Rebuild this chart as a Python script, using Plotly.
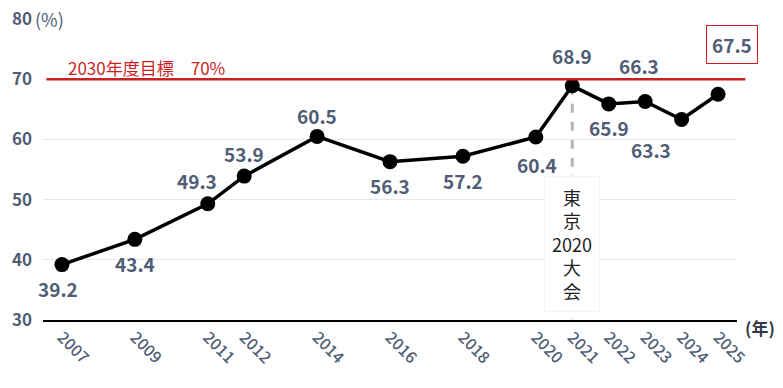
import plotly.graph_objects as go

years = [2007, 2009, 2011, 2012, 2014, 2016, 2018, 2020, 2021, 2022, 2023, 2024, 2025]
values = [39.2, 43.4, 49.3, 53.9, 60.5, 56.3, 57.2, 60.4, 68.9, 65.9, 66.3, 63.3, 67.5]
value_labels = ["39.2", "43.4", "49.3", "53.9", "60.5", "56.3", "57.2", "60.4", "68.9", "65.9", "66.3", "63.3", "67.5"]
y_ticks = [30, 40, 50, 60, 70, 80]
target_value = 70
target_label = "2030年度目標　70%"
event_year = 2021
event_label = "東<br>京<br>2020<br>大<br>会"

# label offsets in pixels (dx, dy) relative to each point
label_offsets = [(-4, 24), (0, 24), (-11, -23), (0, -23), (0, -21), (0, 24), (0, 24),
                 (1, 28), (0, -30), (0, 24), (-6, -36), (-31, 30), (14, -50)]

FONT = "Noto Sans CJK JP"
SLATE = "#4f5d75"
RED = "#cc1f1f"

fig = go.Figure()

# dashed vertical event line
fig.add_trace(go.Scatter(
    x=[event_year, event_year], y=[values[years.index(event_year)], 30],
    mode="lines", line=dict(color="#b5b5b5", width=3, dash="dash"),
    hoverinfo="skip", showlegend=False))

fig.add_trace(go.Scatter(
    x=years, y=values, mode="lines+markers",
    line=dict(color="black", width=3.5),
    marker=dict(color="black", size=15),
    showlegend=False))

# target line
fig.add_shape(type="line", xref="paper", yref="y", x0=0.005, x1=1.012,
              y0=target_value, y1=target_value, line=dict(color=RED, width=2.5))
fig.add_annotation(x=0.033, xref="paper", y=target_value, yref="y", yshift=12,
                   text=target_label, showarrow=False, xanchor="left",
                   font=dict(family=FONT, size=17, color=RED))

for yr, v, lab, (dx, dy) in zip(years, values, value_labels, label_offsets):
    last = yr == years[-1]
    fig.add_annotation(
        x=yr, y=v, text=lab, showarrow=False, xshift=dx, yshift=-dy,
        font=dict(family=FONT, size=19, color=SLATE, weight=600),
        bordercolor=RED if last else "rgba(0,0,0,0)", borderwidth=1 if last else 0,
        borderpad=5, bgcolor="white" if last else "rgba(0,0,0,0)")

# event box
fig.add_annotation(x=event_year, y=42.6, text=event_label, showarrow=False,
                   font=dict(family=FONT, size=18, color="#222222"),
                   bgcolor="white", bordercolor="#f4f4f4", borderwidth=1,
                   borderpad=7, align="center")

fig.add_annotation(x=-0.015, xref="paper", y=80, yref="y", text="(%)",
                   showarrow=False, xanchor="left",
                   font=dict(family=FONT, size=18, color=SLATE))
fig.add_annotation(x=1.0, xref="paper", y=30, yref="y", xshift=6, yshift=-7, text="(年)",
                   showarrow=False, xanchor="left",
                   font=dict(family=FONT, size=17, color="#333a48", weight="bold"))

fig.update_layout(
    width=783, height=388,
    margin=dict(l=43, r=46, t=19, b=68),
    plot_bgcolor="white", paper_bgcolor="white",
    font=dict(family=FONT),
    xaxis=dict(range=[2006.48, 2025.52], tickmode="array", tickvals=years,
               ticktext=[str(y) for y in years], tickangle=45, automargin=False,
               tickfont=dict(family=FONT, size=16, color=SLATE, weight=500),
               showgrid=False, showline=True, linecolor="black", linewidth=1.5,
               zeroline=False, ticks="", ticklabeloverflow="allow"),
    yaxis=dict(range=[30, 80], tickvals=y_ticks, showgrid=True, automargin=False,
               gridcolor="#e4e8ef", gridwidth=1, zeroline=False, showline=False,
               tickfont=dict(family=FONT, size=17, color=SLATE, weight="bold"),
               ticklabelstandoff=10, ticklabeloverflow="allow"),
)

fig.write_html("out.html", config={"displayModeBar": False},
               post_script="document.body.style.margin='0';")
